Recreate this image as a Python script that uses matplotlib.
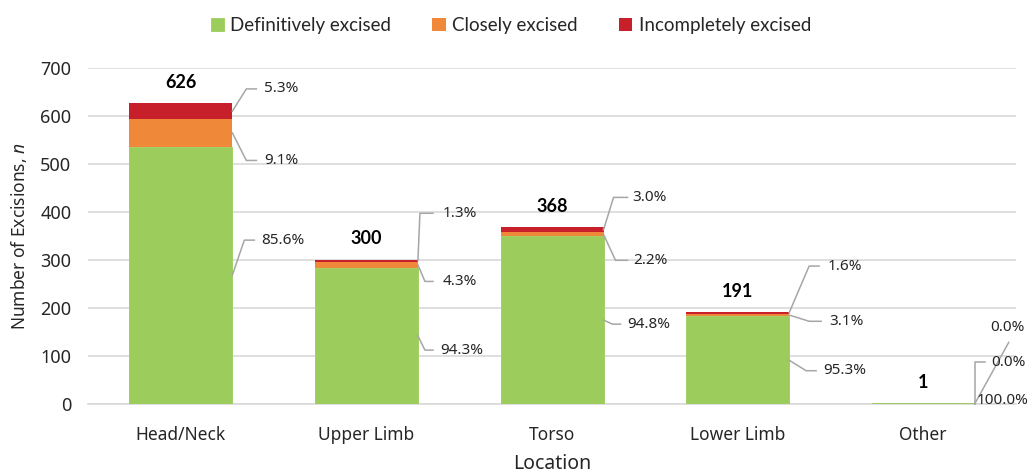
import matplotlib
matplotlib.use("Agg")
import matplotlib.pyplot as plt
import numpy as np

plt.rcParams['font.family'] = ['Noto Sans', 'DejaVu Sans']
plt.rcParams['mathtext.fontset'] = 'custom'
plt.rcParams['mathtext.it'] = 'Noto Sans:italic'
plt.rcParams['mathtext.rm'] = 'Noto Sans'

categories = ["Head/Neck", "Upper Limb", "Torso", "Lower Limb", "Other"]
definitive = [536, 283, 349, 182, 1]
close = [57, 13, 8, 6, 0]
incomplete = [33, 4, 11, 3, 0]
pct_definitive = ["85.6%", "94.3%", "94.8%", "95.3%", "100.0%"]
pct_close = ["9.1%", "4.3%", "2.2%", "3.1%", "0.0%"]
pct_incomplete = ["5.3%", "1.3%", "3.0%", "1.6%", "0.0%"]
series_names = ["Definitively excised", "Closely excised", "Incompletely excised"]

colors = ["#9BCC5C", "#F0883A", "#C8202A"]
leader_color = "#A6A6A6"

# label layout: (label y in data units, elbow dx px, end dx px, text dx px) per bar
lay_def = [(341, 12, 22, 29), (112, 7, 15, 22), (166, 9, 17, 24), (69, 17, 27, 34), (6, 0, 0, 2)]
lay_close = [(507, 14, 24, 32), (255, 7, 15, 25), (299, 12, 24, 30), (172, 20, 32, 40), (87, 0, 10, 17)]
lay_inc = [(656, 14, 24, 32), (397, 2, 15, 25), (430, 10, 24, 29), (287, 20, 30, 39), (158, 34, 34, 16)]

fig = plt.figure(figsize=(10.32, 4.74), dpi=100)
ax = fig.add_axes([0.0853, 0.148, 0.8992, 0.709])

x = np.arange(len(categories))
width = 0.555
d = np.array(definitive)
c = np.array(close)
inc = np.array(incomplete)
ax.bar(x, d, width, color=colors[0], edgecolor=colors[0], lw=0.6,
       label=series_names[0], zorder=3)
ax.bar(x, c, width, bottom=d, color=colors[1], label=series_names[1], zorder=3)
ax.bar(x, inc, width, bottom=d + c, color=colors[2], label=series_names[2], zorder=3)

ax.set_xlim(-0.5, len(categories) - 0.5)
ax.set_ylim(0, 700)
ax.set_yticks(range(0, 701, 100))
ax.grid(axis='y', color='#D9D9D9', lw=1.2, zorder=0)
ax.set_axisbelow(True)
for s in ['top', 'right', 'left']:
    ax.spines[s].set_visible(False)
ax.spines['bottom'].set_color('#D9D9D9')
ax.spines['bottom'].set_linewidth(1.2)
ax.spines['bottom'].set_zorder(1)
ax.tick_params(axis='both', length=0, labelsize=12.5, colors='#262626')
ax.tick_params(axis='y', labelsize=13, pad=12)
ax.tick_params(axis='x', pad=16)
ax.set_xticks(x)
ax.set_xticklabels(categories)
ax.set_xlabel("Location", fontsize=14, color='#262626', labelpad=7)
ax.set_ylabel("Number of Excisions, $n$", fontsize=12.5, color='#262626', labelpad=8)

px = 1.0 / 185.6  # data units per pixel in x

totals = d + c + inc
for i in range(len(categories)):
    ax.text(x[i], totals[i] + 44, str(totals[i]), ha='center', va='center',
            fontsize=13, fontweight='bold', family=['Lato'], color='#000000')
    edge = x[i] + width / 2
    segs = [(d[i] / 2 if d[i] > 1 else 0, pct_definitive[i], lay_def[i]),
            (d[i] + c[i] / 2 if d[i] > 1 else 0, pct_close[i], lay_close[i]),
            (d[i] + c[i] + inc[i] / 2 if d[i] > 1 else 0, pct_incomplete[i], lay_inc[i])]
    for k, (ymid, txt, (ly, e1, e2, tx)) in enumerate(segs):
        if i == 4 and k == 2:
            ax.plot([edge, edge + 34 * px], [0, 128], color=leader_color, lw=1.1,
                    clip_on=False, zorder=4)
        elif i == 4 and k == 0:
            pass
        else:
            xs = [edge, edge + e1 * px, edge + e2 * px]
            ys = [ymid, ly, ly]
            ax.plot(xs, ys, color=leader_color, lw=1.1, clip_on=False, zorder=4)
        ax.text(edge + tx * px, ly, txt, ha='left', va='center', fontsize=11,
                color='#262626', zorder=5)

leg = fig.legend(loc='upper center', bbox_to_anchor=(0.495, 1.0), ncol=3, frameon=False,
                 prop={'family': ['Lato'], 'size': 13.5},
                 handlelength=0.7, handleheight=0.7, handletextpad=0.35,
                 columnspacing=2.2)
for t in leg.get_texts():
    t.set_color('#262626')

fig.savefig("out.png", dpi=100)
